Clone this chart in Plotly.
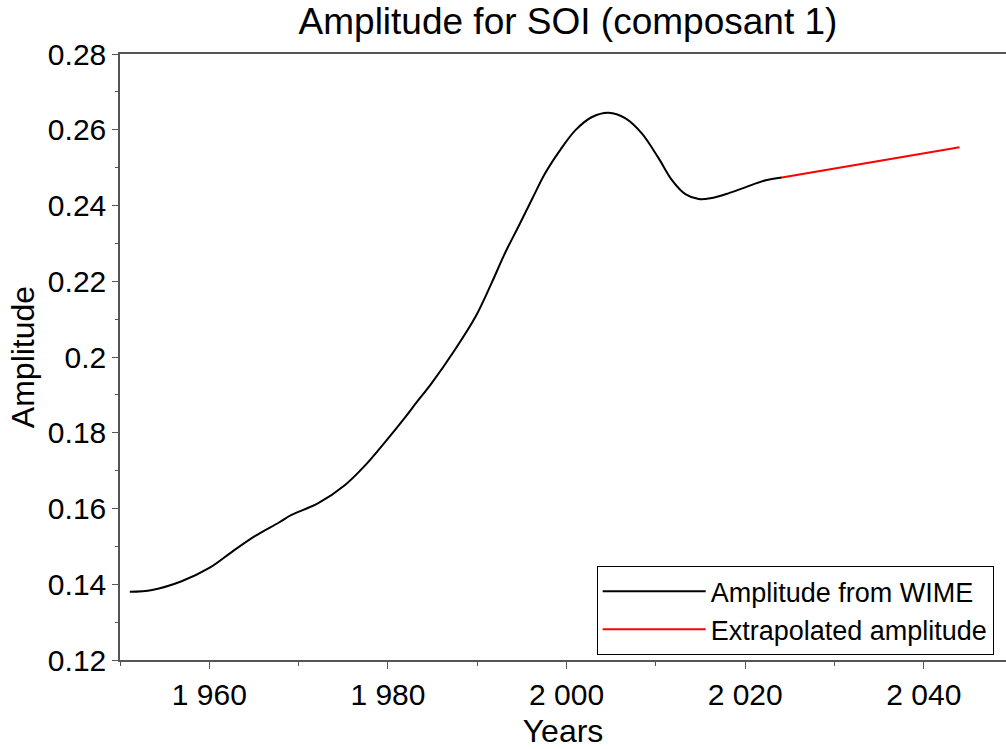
import plotly.graph_objects as go

# Data
years_wime = [1951.1, 1953.6, 1956.9, 1960.0, 1962.5, 1965.1, 1967.8, 1969.2, 1972.2,
              1975.2, 1977.5, 1979.7, 1981.9, 1983.2, 1984.9, 1987.5, 1989.8, 1991.6,
              1993.1, 1994.6, 1996.1, 1997.6, 1999.3, 2001.0, 2002.8, 2004.7, 2006.6,
              2008.4, 2010.3, 2011.8, 2013.3, 2014.8, 2016.1, 2018.1, 2020.0, 2022.2, 2024.1]
amp_wime = [0.1380, 0.1385, 0.1408, 0.1443, 0.1485, 0.1527, 0.1563, 0.1583, 0.1614,
            0.1662, 0.1715, 0.1776, 0.1840, 0.1880, 0.1931, 0.2019, 0.2106, 0.2195,
            0.2274, 0.2344, 0.2415, 0.2485, 0.2547, 0.2599, 0.2633, 0.2645, 0.2630,
            0.2591, 0.2525, 0.2467, 0.2430, 0.2417, 0.2419, 0.2432, 0.2448, 0.2466, 0.2474]
years_extra = [2024.1, 2044.0]
amp_extra = [0.2474, 0.2554]

FONT = "Liberation Sans, Arial, sans-serif"

fig = go.Figure()
fig.add_trace(go.Scatter(x=years_wime, y=amp_wime, mode="lines", name="Amplitude from WIME",
                         line=dict(color="black", width=2, shape="spline", smoothing=1.0)))
fig.add_trace(go.Scatter(x=years_extra, y=amp_extra, mode="lines", name="Extrapolated amplitude",
                         line=dict(color="red", width=2)))

axis_color = "#555555"
fig.update_layout(
    width=1006, height=749,
    margin=dict(l=120, r=0, t=54, b=89),
    paper_bgcolor="white", plot_bgcolor="white",
    separators=". ",
    font=dict(family=FONT, color="black"),
    title=dict(text="Amplitude for SOI (composant 1)", x=0.5056, xref="paper", xanchor="center",
               y=0.972, yref="container", yanchor="middle",
               font=dict(size=37, family=FONT, color="black")),
    xaxis=dict(range=[1950, 2049.2], showgrid=False, zeroline=False,
               showline=True, linecolor=axis_color, linewidth=1.5, mirror=True,
               ticks="outside", ticklen=7, tickcolor=axis_color, tickwidth=1,
               dtick=20, tick0=1960, separatethousands=True, tickformat=",d",
               tickfont=dict(size=30, family=FONT, color="black"),
               minor=dict(ticks="outside", ticklen=4, tickcolor=axis_color, dtick=10, tick0=1950),
               title=dict(text="Years", font=dict(size=32, family=FONT, color="black"), standoff=10)),
    yaxis=dict(range=[0.12, 0.28], showgrid=False, zeroline=False,
               showline=True, linecolor=axis_color, linewidth=1.5,
               ticks="outside", ticklen=6, tickcolor=axis_color, tickwidth=1,
               dtick=0.02, tick0=0.12,
               tickfont=dict(size=30, family=FONT, color="black"),
               minor=dict(ticks="outside", ticklen=3, tickcolor=axis_color, dtick=0.01),
               title=dict(text="Amplitude", font=dict(size=32, family=FONT, color="black"), standoff=4)),
    showlegend=True,
    legend=dict(x=0.538, y=0.008, xanchor="left", yanchor="bottom",
                bgcolor="white", bordercolor="black", borderwidth=1,
                font=dict(size=27, family=FONT, color="black"),
                itemwidth=103, tracegroupgap=0),
)

fig.write_html("out.html")
